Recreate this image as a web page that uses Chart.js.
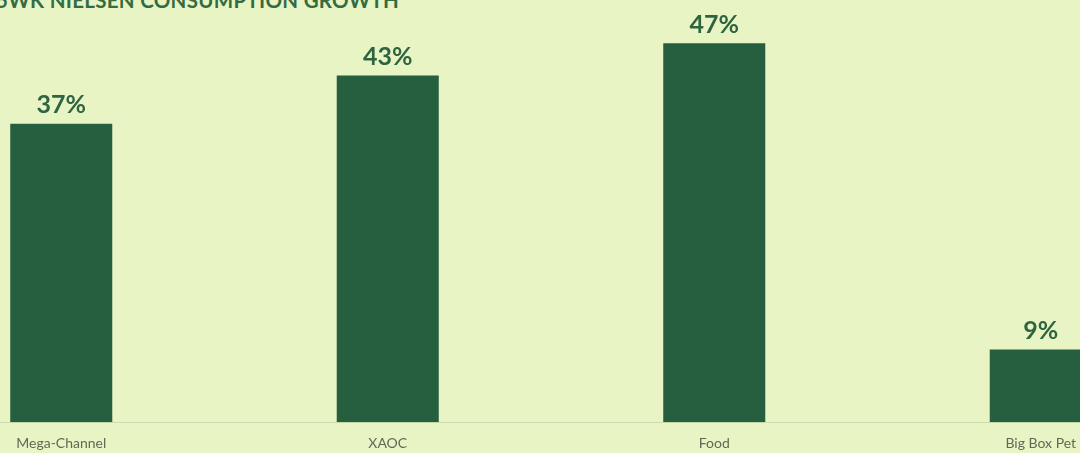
<!DOCTYPE html>
<html>
<head>
<meta charset="utf-8">
<script src="https://cdn.jsdelivr.net/npm/chart.js@4.4.1/dist/chart.umd.min.js"></script>
<style>
    html, body {
        margin: 0;
        padding: 0;
        width: 1080px;
        height: 453px;
        overflow: hidden;
        background: #e9f4c4;
        font-family: Lato, 'Open Sans', sans-serif;
    }
    #title {
        position: absolute;
        left: -4px;
        top: -12px;
        font-size: 20.5px;
        font-weight: bold;
        color: #336b43;
        white-space: nowrap;
        letter-spacing: 0.3px;
    }
    #wrap {
        position: absolute;
        left: -102px;
        top: 0;
        width: 1306px;
        height: 466px;
    }
</style>
</head>
<body>
<div id="title">5WK NIELSEN CONSUMPTION GROWTH</div>
<div id="wrap"><canvas id="growth-chart"></canvas></div>
<script>
const channels = ['Mega-Channel', 'XAOC', 'Food', 'Big Box Pet'];
const growthPct = [37, 43, 47, 9];

const barColor = '#255f40';
const labelColor = '#2e6540';

// draws the "37%" style labels above each bar
const valueLabels = {
    id: 'valueLabels',
    afterDatasetsDraw(chart) {
        const ctx = chart.ctx;
        const meta = chart.getDatasetMeta(0);
        ctx.save();
        ctx.font = 'bold 25px Lato, sans-serif';
        ctx.fillStyle = labelColor;
        ctx.textAlign = 'center';
        ctx.textBaseline = 'bottom';
        meta.data.forEach((bar, i) => {
            ctx.fillText(growthPct[i] + '%', bar.x, bar.y - 6);
        });
        ctx.restore();
    }
};

new Chart(document.getElementById('growth-chart'), {
    type: 'bar',
    data: {
        labels: channels,
        datasets: [{
            data: growthPct,
            backgroundColor: barColor,
            borderWidth: 0,
            categoryPercentage: 1,
            barPercentage: 0.3125
        }]
    },
    options: {
        responsive: true,
        maintainAspectRatio: false,
        animation: false,
        layout: {
            padding: { top: 19, bottom: 1, left: 0, right: 0 }
        },
        plugins: {
            legend: { display: false },
            tooltip: { enabled: false }
        },
        scales: {
            x: {
                grid: { display: false, drawTicks: false },
                border: { display: true, color: 'rgba(190, 205, 160, 0.6)' },
                ticks: {
                    color: '#5d6b55',
                    font: { family: 'Lato', size: 14 },
                    padding: 13
                }
            },
            y: {
                display: false,
                min: 0,
                max: 50
            }
        }
    },
    plugins: [valueLabels]
});
</script>
</body>
</html>
